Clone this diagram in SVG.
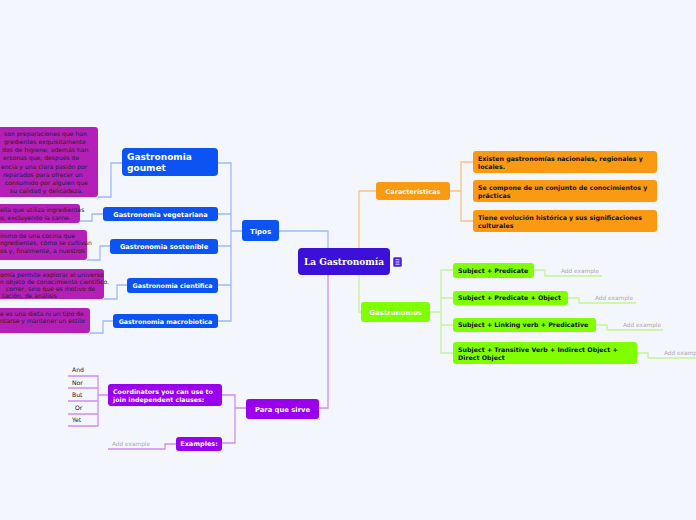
<svg xmlns="http://www.w3.org/2000/svg" width="696" height="520" viewBox="0 0 696 520">
<style>
.bg{fill:#f3f6fd}
.c{fill:none;stroke-width:1.3}
.cb{stroke:#9fb8f7}
.co{stroke:#f9c27a}
.cg{stroke:#c4f593}
.cp{stroke:#cf8cf5}
.blue{fill:#0b53f2}
.mag{fill:#b41fb8}
.org{fill:#fa9a12}
.grn{fill:#80ff00}
.pur{fill:#9a00ee}
.t{font-family:"DejaVu Sans",Verdana,sans-serif}
.w{fill:#fff;font-weight:bold}
.k{fill:#111;font-weight:bold;font-size:6.3px}
.m{fill:#222;font-size:6.1px}
.a{fill:#aaa;font-size:5.8px}
</style>
<rect class="bg" x="0" y="0" width="696" height="520"/>
<g id="connectors">
<path class="c cb" d="M279,231 H328 V248"/>
<path class="c co" d="M359,248 V191 H376"/>
<path class="c cg" d="M359,275 V312 H362"/>
<path class="c cp" d="M328,275 V408 H319"/>
<path class="c cb" d="M242,231 H231 M218,163 H231 V321 H218 M218,214 H231 M218,246 H231 M218,285 H231"/>
<path class="c cb" d="M98,197 H111 V163 H122"/>
<path class="c cb" d="M80,221 H92 V214 H103"/>
<path class="c cb" d="M87,260 H100 V246 H110"/>
<path class="c cb" d="M104,299 H117 V285 H127"/>
<path class="c cb" d="M90,333 H103 V321 H113"/>
<path class="c co" d="M450,191 H461 M473,162 H461 V221 H473"/>
<path class="c cg" d="M430,312 H441 M453,270 H441 V353 H453 M441,298 H453 M441,325 H453"/>
<path class="c cg" d="M534,270 H545 V276 H602"/>
<path class="c cg" d="M568,298 H579 V303 H636"/>
<path class="c cg" d="M596,325 H607 V330 H663"/>
<path class="c cg" d="M637,353 H648 V358 H696"/>
<path class="c cp" d="M246,408 H235 M222,395 H235 V443 H222"/>
<path class="c cp" d="M108,395 H98 M68,376 H98 V426 H68 M68,388 H98 M68,401 H98 M68,414 H98"/>
<path class="c cp" d="M176,444 H165 V449 H108"/>
</g>
<g id="center">
<rect x="298" y="248" width="92" height="27" rx="4" fill="#3b10d9"/>
<text x="344" y="265" text-anchor="middle" font-family="'DejaVu Serif',serif" font-weight="bold" font-size="9px" fill="#fff">La Gastronomía</text>
<rect x="393" y="257" width="9" height="10" rx="1.5" fill="#4a1ee0" stroke="#fff" stroke-width="0.5"/>
<path d="M395.5,259.8 H399.5 M395.5,262 H399.5 M395.5,264.2 H399.5" stroke="#fff" stroke-width="0.9"/>
</g>
<g id="tipos">
<rect class="blue" x="242" y="220" width="37" height="21" rx="3"/>
<text class="t w" x="260.5" y="233.5" text-anchor="middle" font-size="7px">Tipos</text>
</g>
<g id="goumet">
<rect class="blue" x="122" y="148" width="96" height="28" rx="4"/>
<text class="t w" x="127" y="160" font-size="9px">Gastronomia</text>
<text class="t w" x="127" y="171" font-size="9px">goumet</text>
</g>
<g id="vegetariana">
<rect class="blue" x="103" y="207" width="115" height="14" rx="3"/>
<text class="t w" x="160.5" y="216.7" text-anchor="middle" font-size="6.6px">Gastronomia vegetariana</text>
</g>
<g id="sostenible">
<rect class="blue" x="110" y="239" width="108" height="15" rx="3"/>
<text class="t w" x="164" y="249" text-anchor="middle" font-size="6.6px">Gastronomia sostenible</text>
</g>
<g id="cientifica">
<rect class="blue" x="127" y="278" width="91" height="15" rx="3"/>
<text class="t w" x="172.5" y="288" text-anchor="middle" font-size="6.3px">Gastronomia cientifica</text>
</g>
<g id="macrobiotica">
<rect class="blue" x="113" y="314" width="105" height="14" rx="3"/>
<text class="t w" x="165.5" y="323.5" text-anchor="middle" font-size="6.3px">Gastronomia macrobiotica</text>
</g>
<g id="desc-goumet">
<rect class="mag" x="-4" y="127" width="102" height="70" rx="3"/>
<text class="t m" x="4" y="136">son preparaciones que han</text>
<text class="t m" x="4" y="144">gredientes exquisitamente</text>
<text class="t m" x="2" y="152">dos de higiene; además han</text>
<text class="t m" x="3" y="160">ersonas que, después de</text>
<text class="t m" x="1" y="168.5">encia y una clara pasión por</text>
<text class="t m" x="3" y="176.5">reparados para ofrecer un</text>
<text class="t m" x="5" y="184.5">consumido por alguien que</text>
<text class="t m" x="10" y="192.5">su calidad y delicadeza.</text>
</g>
<g id="desc-vegetariana">
<rect class="mag" x="-4" y="204" width="84" height="19" rx="3"/>
<text class="t m" x="0" y="212">ella que utiliza ingredientes</text>
<text class="t m" x="0" y="219.5">o, excluyendo la carne.</text>
</g>
<g id="desc-sostenible">
<rect class="mag" x="-4" y="230" width="91" height="30" rx="3"/>
<text class="t m" x="0" y="237.5">ínimo de una cocina que</text>
<text class="t m" x="0" y="245">ngredientes, cómo se cultivan</text>
<text class="t m" x="0" y="252.5">os y, finalmente, a nuestros</text>
</g>
<g id="desc-cientifica">
<rect class="mag" x="-4" y="269" width="108" height="30" rx="3"/>
<text class="t m" x="0" y="277">omía permite explorar el universo</text>
<text class="t m" x="0" y="284">n objeto de conocimiento científico.</text>
<text class="t m" x="6" y="290.5">correr, sino que es motivo de</text>
<text class="t m" x="2" y="298">tación, de análisis</text>
</g>
<g id="desc-macrobiotica">
<rect class="mag" x="-4" y="308" width="94" height="25" rx="3"/>
<text class="t m" x="0" y="315.5">e es una dieta ni un tipo de</text>
<text class="t m" x="0" y="322.5">ntarse y mantener un estilo</text>
</g>
<g id="caracteristicas">
<rect class="org" x="376" y="182" width="74" height="18" rx="3"/>
<text class="t w" x="413" y="193.5" text-anchor="middle" font-size="6.5px">Características</text>
</g>
<g id="car1">
<rect class="org" x="473" y="151" width="184" height="22" rx="3"/>
<text class="t k" x="478" y="161">Existen gastronomías nacionales, regionales y</text>
<text class="t k" x="478" y="169">locales.</text>
</g>
<g id="car2">
<rect class="org" x="473" y="180" width="184" height="22" rx="3"/>
<text class="t k" x="478" y="190">Se compone de un conjunto de conocimientos y</text>
<text class="t k" x="478" y="198">prácticas</text>
</g>
<g id="car3">
<rect class="org" x="473" y="210" width="184" height="22" rx="3"/>
<text class="t k" x="478" y="220">Tiene evolución histórica y sus significaciones</text>
<text class="t k" x="478" y="228">culturales</text>
</g>
<g id="gastronomos">
<rect class="grn" x="361" y="302" width="69" height="20" rx="3"/>
<text class="t w" x="395.5" y="314.5" text-anchor="middle" font-size="7px">Gastronomos</text>
</g>
<g id="g1">
<rect class="grn" x="453" y="263" width="81" height="15" rx="3"/>
<text class="t k" x="458" y="272.5">Subject + Predicate</text>
<text class="t a" x="561" y="273">Add example</text>
</g>
<g id="g2">
<rect class="grn" x="453" y="291" width="115" height="14" rx="3"/>
<text class="t k" x="458" y="300">Subject + Predicate + Object</text>
<text class="t a" x="595" y="300">Add example</text>
</g>
<g id="g3">
<rect class="grn" x="453" y="318" width="143" height="14" rx="3"/>
<text class="t k" x="458" y="327">Subject + Linking verb + Predicative</text>
<text class="t a" x="623" y="327">Add example</text>
</g>
<g id="g4">
<rect class="grn" x="453" y="342" width="184" height="22" rx="3"/>
<text class="t k" x="458" y="352">Subject + Transitive Verb + Indirect Object +</text>
<text class="t k" x="458" y="360">Direct Object</text>
<text class="t a" x="664" y="355">Add example</text>
</g>
<g id="para">
<rect class="pur" x="246" y="399" width="73" height="20" rx="3"/>
<text class="t w" x="282.5" y="411.5" text-anchor="middle" font-size="6.8px">Para que sirve</text>
</g>
<g id="coordinators">
<rect class="pur" x="108" y="384" width="114" height="22" rx="3"/>
<text class="t w" x="113" y="393.5" font-size="6.3px">Coordinators you can use to</text>
<text class="t w" x="113" y="401.5" font-size="6.3px">join independent clauses:</text>
</g>
<g id="examples">
<rect class="pur" x="176" y="437" width="46" height="14" rx="3"/>
<text class="t w" x="199" y="446.3" text-anchor="middle" font-size="6.5px">Examples:</text>
<text class="t a" x="112" y="446">Add example</text>
</g>
<g id="conj">
<text class="t m" x="72" y="372" fill="#333">And</text>
<text class="t m" x="72" y="385">Nor</text>
<text class="t m" x="72" y="397">But</text>
<text class="t m" x="75" y="410">Or</text>
<text class="t m" x="72" y="422">Yet</text>
</g>
</svg>
